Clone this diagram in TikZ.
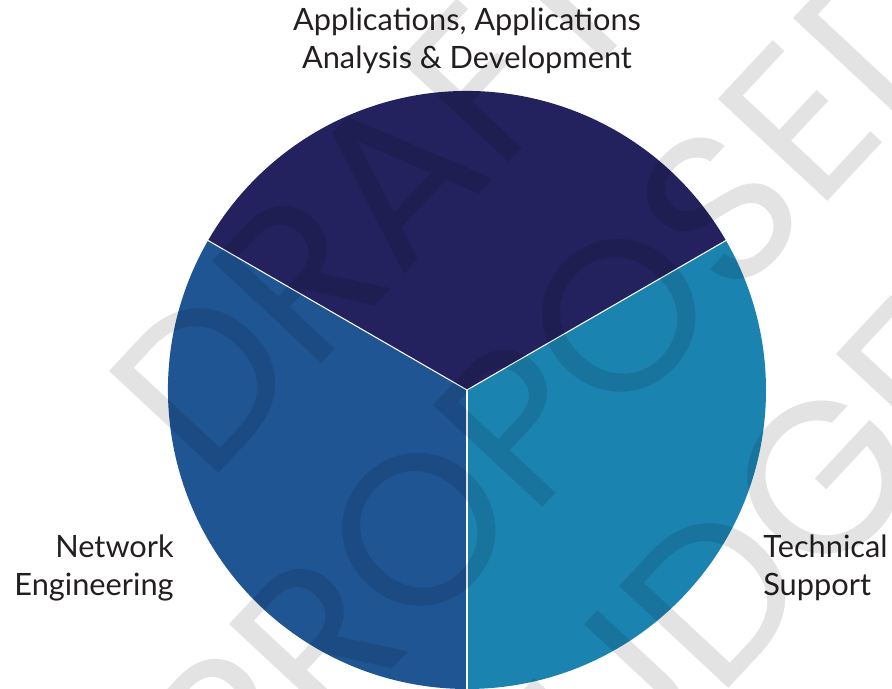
\documentclass[tikz,border=0pt]{standalone}
\usepackage{fontspec}
\setmainfont{Lato}
\newfontfamily\markfont{Poppins}
\definecolor{appsnavy}{RGB}{35,34,94}
\definecolor{netblue}{RGB}{31,85,147}
\definecolor{techteal}{RGB}{27,131,176}
\definecolor{labelgray}{RGB}{35,31,32}
\begin{document}
\begin{tikzpicture}[line join=round]
    \tikzset{lbl/.style={text=labelgray,font=\fontsize{17.5}{21.5}\selectfont,inner sep=0pt}}
    \useasboundingbox (-9.34,-5.98) rectangle (8.50,7.80);
    \def\R{5.98}
    \coordinate (c) at (0,0);
    % three equal slices
    \foreach \a/\b/\col in {30/150/appsnavy,150/270/netblue,270/390/techteal}
    \fill[\col] (c) -- (\a:\R) arc (\a:\b:\R) -- cycle;
    \foreach \a in {30,150,270}
    \draw[white,line width=0.6pt] (c) -- (\a:\R);
    \node[lbl,align=center] (apps) at (0,6.98) {Applications, Applications\\Analysis \& Development};
    \node[lbl,align=right,anchor=east] (net) at (-5.86,-3.56) {Network\\Engineering};
    \node[lbl,align=left,anchor=west] (tech) at (5.92,-3.56) {Technical\\Support};
    % watermark
    \node[rotate=47,text=black,text opacity=0.11,align=center,
        font=\markfont\fontsize{122}{148}\selectfont] (mark) at (1.96,0.30) {DRAFT\\PROPOSED\\BUDGET};
\end{tikzpicture}
\end{document}
